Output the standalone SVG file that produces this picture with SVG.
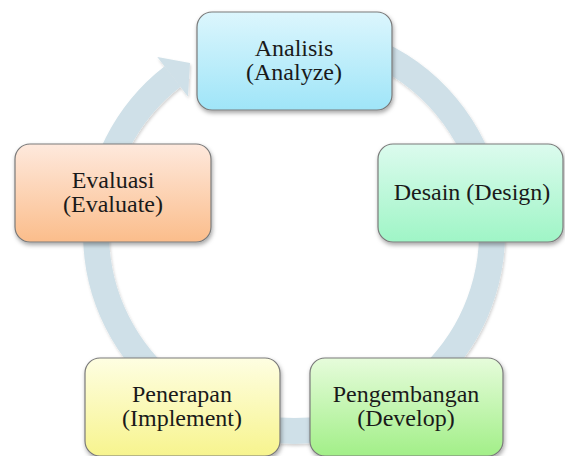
<svg xmlns="http://www.w3.org/2000/svg" width="565" height="456" viewBox="0 0 565 456">
<style>
.node{stroke:#7a7a7a;stroke-width:1.2;filter:url(#sh)}
.t{font-family:"Liberation Serif","Times New Roman",serif;font-size:24px;fill:#1a1a1a;text-anchor:middle}
</style>
<defs>
<filter id="sh" x="-10%" y="-10%" width="130%" height="130%">
<feDropShadow dx="1" dy="2.5" stdDeviation="2" flood-color="#000" flood-opacity="0.35"/>
</filter>
<filter id="rsh" x="-10%" y="-10%" width="130%" height="130%">
<feDropShadow dx="1" dy="2" stdDeviation="1.5" flood-color="#000" flood-opacity="0.18"/>
</filter>
<linearGradient id="gA" x1="0" y1="0" x2="0" y2="1"><stop offset="0" stop-color="#dcf6fd"/><stop offset="1" stop-color="#9fe5f8"/></linearGradient>
<linearGradient id="gD" x1="0" y1="0" x2="0" y2="1"><stop offset="0" stop-color="#dcfbee"/><stop offset="1" stop-color="#9ff5c6"/></linearGradient>
<linearGradient id="gP" x1="0" y1="0" x2="0" y2="1"><stop offset="0" stop-color="#e6fcdb"/><stop offset="1" stop-color="#a2ef88"/></linearGradient>
<linearGradient id="gI" x1="0" y1="0" x2="0" y2="1"><stop offset="0" stop-color="#fefee2"/><stop offset="1" stop-color="#f7f48e"/></linearGradient>
<linearGradient id="gE" x1="0" y1="0" x2="0" y2="1"><stop offset="0" stop-color="#fee9dd"/><stop offset="1" stop-color="#fbbd8b"/></linearGradient>
</defs>
<rect width="565" height="456" fill="#ffffff"/>
<g id="connectors" filter="url(#rsh)">
<path d="M 294 35 A 198 198 0 1 1 172.6 76.6" fill="none" stroke="#cfe0e8" stroke-width="26"/>
<polygon points="157.3,56.9 190,63 187.9,96.4" fill="#cfe0e8"/>
</g>
<g id="analisis">
<rect class="node" x="197" y="12" width="195" height="98" rx="15" fill="url(#gA)"/>
<text class="t" x="294" y="56">Analisis</text>
<text class="t" x="294" y="80">(Analyze)</text>
</g>
<g id="desain">
<rect class="node" x="378" y="144" width="185" height="98" rx="15" fill="url(#gD)"/>
<text class="t" x="472" y="200">Desain (Design)</text>
</g>
<g id="pengembangan">
<rect class="node" x="310" y="358" width="193" height="98" rx="15" fill="url(#gP)"/>
<text class="t" x="406" y="402">Pengembangan</text>
<text class="t" x="406" y="426">(Develop)</text>
</g>
<g id="penerapan">
<rect class="node" x="85" y="358" width="195" height="98" rx="15" fill="url(#gI)"/>
<text class="t" x="182" y="402">Penerapan</text>
<text class="t" x="182" y="426">(Implement)</text>
</g>
<g id="evaluasi">
<rect class="node" x="15" y="144" width="196" height="98" rx="15" fill="url(#gE)"/>
<text class="t" x="113" y="188">Evaluasi</text>
<text class="t" x="113" y="212">(Evaluate)</text>
</g>
</svg>
